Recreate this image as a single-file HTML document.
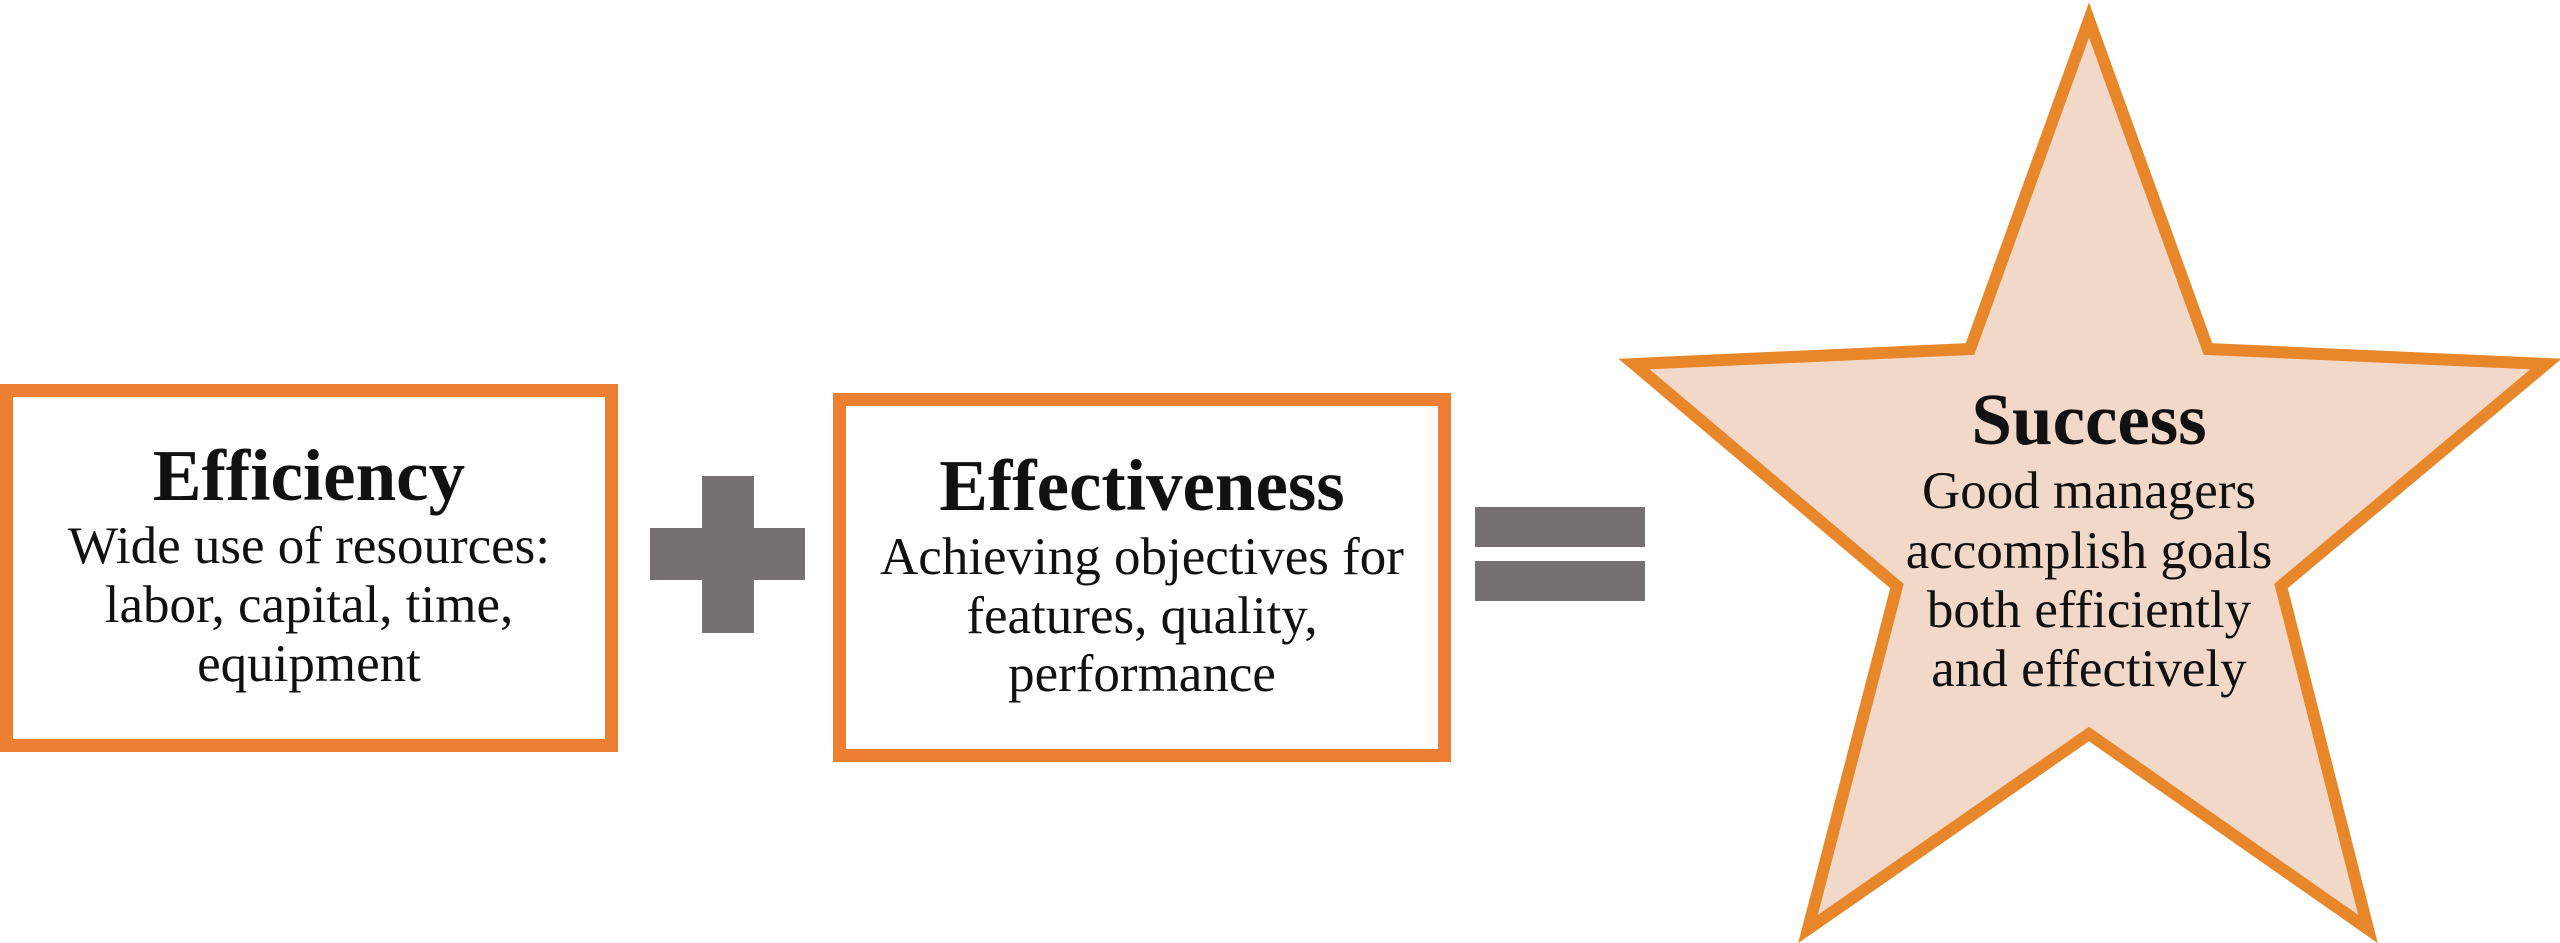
<!DOCTYPE html>
<html><head><meta charset="utf-8"><style>
html,body{margin:0;padding:0;background:#fff;width:2560px;height:943px;overflow:hidden}
svg{display:block}
text{font-family:"Liberation Serif",serif;fill:#111;text-anchor:middle}
.t{font-weight:bold;font-size:73px}
.b{font-size:53px}
</style></head><body>
<svg width="2560" height="943" viewBox="0 0 2560 943">
<rect x="6.5" y="390.5" width="605" height="355" fill="#fff" stroke="#ed7f33" stroke-width="13"/>
<rect x="839.5" y="399.5" width="605" height="356" fill="#fff" stroke="#ed7f33" stroke-width="13"/>
<rect x="702" y="476" width="52" height="157" fill="#767170"/>
<rect x="650" y="528" width="155" height="52" fill="#767170"/>
<rect x="1475" y="507" width="170" height="40" fill="#767170"/>
<rect x="1475" y="561" width="170" height="40" fill="#767170"/>
<polygon points="2089,20 2208,349 2546,364 2281,586 2368,929 2089,734 1808,929 1897,586 1634,364 1970,349" fill="#f2d8c8" stroke="#e8862a" stroke-width="12" stroke-linejoin="miter"/>
<text class="t" x="309" y="500">Efficiency</text>
<text class="b" x="309" y="563">Wide use of resources:</text>
<text class="b" x="309" y="622">labor, capital, time,</text>
<text class="b" x="309" y="681">equipment</text>
<text class="t" x="1142" y="510">Effectiveness</text>
<text class="b" x="1142" y="574">Achieving objectives for</text>
<text class="b" x="1142" y="633">features, quality,</text>
<text class="b" x="1142" y="691">performance</text>
<text class="t" x="2089" y="444">Success</text>
<text class="b" x="2089" y="508">Good managers</text>
<text class="b" x="2089" y="568">accomplish goals</text>
<text class="b" x="2089" y="627">both efficiently</text>
<text class="b" x="2089" y="686">and effectively</text>
</svg>
</body></html>
